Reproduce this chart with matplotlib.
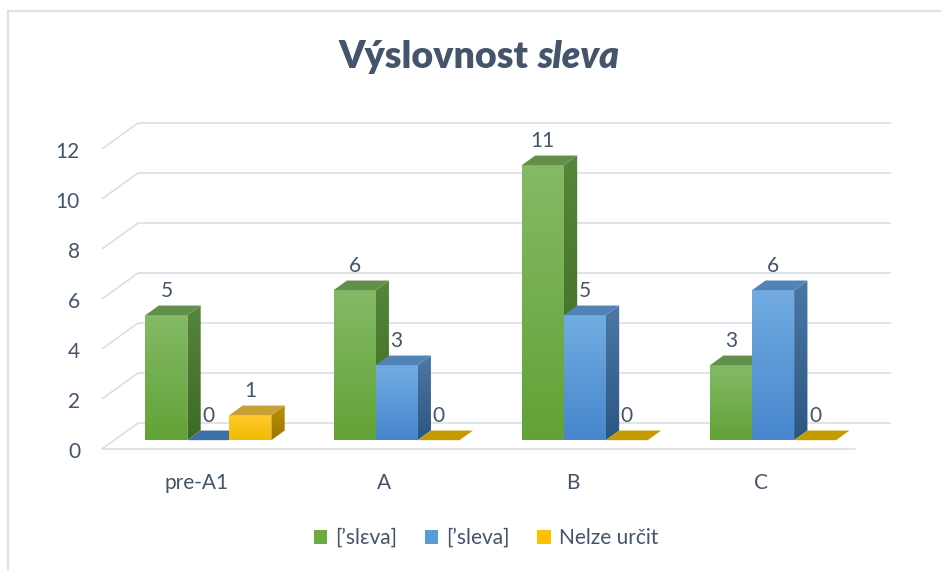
import numpy as np
import matplotlib
matplotlib.use("Agg")
import matplotlib.pyplot as plt
from matplotlib.patches import Polygon, Patch
from matplotlib.colors import LinearSegmentedColormap
from matplotlib.lines import Line2D

# ---- data ----
categories = ["pre-A1", "A", "B", "C"]
series_names = ["[\u2019sl\u025bva]", "[\u2019sleva]", "Nelze ur\u010dit"]
s_slEva = [5, 6, 11, 3]
s_sleva = [0, 3, 5, 6]
s_nelze = [1, 0, 0, 0]
yticks = [0, 2, 4, 6, 8, 10, 12]
title_main = "V\u00fdslovnost "
title_ital = "sleva"

series = [s_slEva, s_sleva, s_nelze]

# ---- styles ----
front_cols = [("#84ba66", "#62a236"), ("#72ace2", "#4686cc"), ("#ffcb2e", "#f2ba00")]
side_cols = [("#55863a", "#3d6a23"), ("#4c78a6", "#2c5682"), ("#b89000", "#9a7800")]
top_cols = ["#62904a", "#5283b6", "#c8a035"]
zero_cols = ["#4f8a30", "#3d70a6", "#c59b00"]
legend_cols = ["#6aab3f", "#5b9bd5", "#ffc000"]
TXT = "#44546a"
GRID = "#dadee4"
FONT = ["Lato", "DejaVu Sans"]
plt.rcParams["font.family"] = FONT
FS = 15

W, H = 941, 571
fig = plt.figure(figsize=(W / 100, H / 100), dpi=100)
ax = fig.add_axes([0, 0, 1, 1])
ax.set_axis_off()

PXC = 188.25        # px per category
PXV = 25.0          # px per value unit
X0 = 102.0          # px of floor front-left
Y0 = 449.0          # px of value 0 at front
xl = -0.5 - X0 / PXC
xr = xl + W / PXC
yt = Y0 / PXV
yb = yt - H / PXV

Dx, Dy = 36 / PXC, 26 / PXV          # full depth of floor
f0, fd = 0.34, 0.37                  # bar front position, bar depth (fractions)
ox, oy = f0 * Dx, f0 * Dy
dx, dy = fd * Dx, fd * Dy
bw = 42 / PXC
n = len(categories)

# ---- gridlines / floor ----
for v in yticks:
    ax.plot([-0.5, -0.5 + Dx, n - 0.5 + Dx], [v, v + Dy, v + Dy],
            color=GRID, lw=1.2, zorder=1, solid_capstyle="butt")
ax.plot([-0.5, n - 0.5], [0, 0], color=GRID, lw=1.2, zorder=1)

def grad_poly(verts, c_top, c_bot, z):
    poly = Polygon(verts, closed=True, facecolor="none", edgecolor="none")
    ax.add_patch(poly)
    xs = [p[0] for p in verts]
    ys = [p[1] for p in verts]
    cmap = LinearSegmentedColormap.from_list("g", [c_bot, c_top])
    g = np.linspace(0, 1, 256)[:, None]
    im = ax.imshow(g, extent=[min(xs), max(xs), min(ys), max(ys)], origin="lower",
                   cmap=cmap, aspect="auto", zorder=z, interpolation="bilinear")
    im.set_clip_path(poly)

z = 2
for i in range(n):
    cx = i + ox
    for j, s in enumerate(series):
        v = s[i]
        x1 = cx + (j - 1.5) * bw
        x2 = x1 + bw
        yb0 = oy
        yt0 = oy + v
        if v > 0:
            grad_poly([(x1, yb0), (x2, yb0), (x2, yt0), (x1, yt0)],
                      front_cols[j][0], front_cols[j][1], z)
            grad_poly([(x2, yb0), (x2 + dx, yb0 + dy), (x2 + dx, yt0 + dy), (x2, yt0)],
                      side_cols[j][0], side_cols[j][1], z + 0.1)
            ax.add_patch(Polygon([(x1, yt0), (x2, yt0), (x2 + dx, yt0 + dy), (x1 + dx, yt0 + dy)],
                                 closed=True, facecolor=top_cols[j], edgecolor="none", zorder=z + 0.2))
        else:
            ax.add_patch(Polygon([(x1, yt0), (x2, yt0), (x2 + dx, yt0 + dy), (x1 + dx, yt0 + dy)],
                                 closed=True, facecolor=zero_cols[j], edgecolor="none", zorder=z + 0.2))
        ax.text((x1 + x2) / 2, yt0 + 0.98, str(v), ha="center", va="center",
                fontsize=FS, color=TXT, zorder=50)
        z += 1

# ---- axis labels ----
for v in yticks:
    ax.text(xl + 80 / PXC, v - 0.1, str(v), ha="right", va="center", fontsize=FS, color=TXT)
for i, c in enumerate(categories):
    ax.text(i, -(483 - Y0) / PXV, c, ha="center", va="center", fontsize=FS, color=TXT)

ax.set_xlim(xl, xr)
ax.set_ylim(yb, yt)

# ---- border ----
fig.add_artist(Line2D([8 / W, 1], [1 - 11 / H, 1 - 11 / H], transform=fig.transFigure,
                      color="#dfe3e8", lw=1.5))
fig.add_artist(Line2D([8 / W, 8 / W], [0, 1 - 11 / H], transform=fig.transFigure,
                      color="#dfe3e8", lw=1.5))

# ---- title ----
r = fig.canvas.get_renderer()
t1 = fig.text(0, 0, title_main, fontsize=27, fontweight="heavy", color=TXT, va="baseline")
t2 = fig.text(0, 0, title_ital, fontsize=27, fontweight="heavy",
              fontstyle="italic", color=TXT, va="baseline")
w1 = t1.get_window_extent(r).width
w2 = t2.get_window_extent(r).width
cx_t = 479
base = 1 - 68 / H
start = cx_t - (w1 + w2) / 2
t1.set_position((start / W, base))
t2.set_position(((start + w1) / W, base))

# ---- legend ----
handles = [Patch(facecolor=legend_cols[j], edgecolor="none") for j in range(3)]
fig.legend(handles, series_names, loc="center", bbox_to_anchor=(486 / W, 1 - 538 / H),
           ncol=3, frameon=False, fontsize=FS, handlelength=0.65, handleheight=0.65,
           handletextpad=0.4, columnspacing=1.3, labelcolor=TXT)

fig.savefig("out.png", dpi=100)
